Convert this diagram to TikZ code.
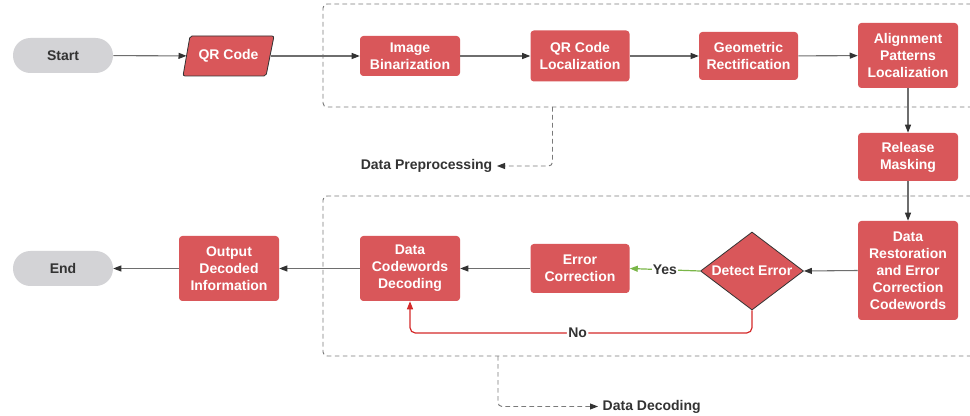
\documentclass[tikz,border=0pt]{standalone}
\usepackage{fontspec}
\setmainfont{Liberation Sans}
\usetikzlibrary{shapes.geometric,arrows.meta}
\definecolor{boxred}{HTML}{D9575A}
\definecolor{pill}{HTML}{D3D3D6}
\definecolor{ink}{HTML}{333333}
\definecolor{wire}{HTML}{6E6E6E}
\definecolor{yesgreen}{HTML}{7AB648}
\definecolor{nored}{HTML}{D42A2A}
\definecolor{frame}{HTML}{7A7A7A}
\begin{document}
\begin{tikzpicture}[x=0.75pt,y=-0.75pt,
  font=\fontsize{10.5}{12.75}\selectfont\bfseries,
  stepbox/.style={fill=boxred, text=white, rounded corners=2.5pt, align=center,
    inner sep=0pt, minimum width=75pt},
  terminal/.style={fill=pill, text=ink, rounded corners=13pt, minimum width=75pt,
    minimum height=26.25pt, inner sep=0pt},
  tip/.style={-{Triangle[length=6pt,width=4.5pt,color=ink]}},
  flow/.style={draw=wire, line width=0.8pt, tip},
  group/.style={draw=frame, dash pattern=on 3.5pt off 2.5pt, rounded corners=3pt,
    line width=0.7pt, inner sep=0pt},
  tagline/.style={draw=frame, dash pattern=on 3.5pt off 2.5pt, line width=0.7pt,
    rounded corners=3pt, tip},
  tag/.style={text=ink},
]
\clip (0,0) rectangle (970,416);
\fill[white] (0,0) rectangle (970,416);

% stage frames
\node[group, minimum width=489pt, minimum height=77.25pt] (prep) at (649,55.5) {};
\node[group, minimum width=489pt, minimum height=120pt] (deco) at (649,276) {};

% top row
\node[terminal] (start) at (63,55.5) {Start};
\draw[fill=boxred, draw=ink, line width=0.6pt, rounded corners=1.5pt]
  (183,76) -- (190,36) -- (274,36) -- (266,76) -- cycle;
\node[text=white, minimum width=62.6pt, minimum height=30pt, inner sep=0pt] (qr) at (228.5,56) {QR Code};
\node[stepbox, minimum height=30pt] (bin) at (410,56) {Image\\Binarization};
\node[stepbox, minimum width=74.25pt, minimum height=38.25pt] (loc) at (580,56) {QR Code\\Localization};
\node[stepbox, minimum width=74.25pt, minimum height=36pt] (geo) at (748.5,56) {Geometric\\Rectification};
\node[stepbox, minimum height=48.75pt] (align) at (908,55.5) {Alignment\\Patterns\\Localization};

% right column
\node[stepbox, minimum height=36pt] (mask) at (908,157) {Release\\Masking};
\node[stepbox, minimum height=74.25pt] (rest) at (908,270.5) {Data\\Restoration\\and Error\\Correction\\Codewords};

% bottom row
\node[diamond, draw=ink, fill=boxred, line width=0.6pt, minimum width=77.25pt,
  minimum height=58.5pt, inner sep=0pt] (det) at (752,271) {};
\node[text=white] (detlabel) at (det) {Detect Error};
\node[stepbox, minimum width=74.25pt, minimum height=36.75pt] (ecor) at (580,268.5) {Error\\Correction};
\node[stepbox, minimum height=48.75pt] (dcd) at (410,268.5) {Data\\Codewords\\Decoding};
\node[stepbox, minimum height=48.75pt] (out) at (229,268.5) {Output\\Decoded\\Information};
\node[terminal] (end) at (63,268.5) {End};

% main flow
\draw[flow] (start) -- (qr);
\draw[flow] (qr) -- (bin);
\draw[flow] (bin) -- (loc);
\draw[flow] (loc) -- (geo);
\draw[flow] (geo) -- (align);
\draw[flow] (align) -- (mask);
\draw[flow] (mask) -- (rest);
\draw[flow] (rest.west) -- (det.east);
\draw[draw=yesgreen, line width=0.9pt, -{Triangle[length=6pt,width=4.5pt,color=yesgreen]}]
  (det.west) -- node[fill=white, inner sep=1pt, text=ink] {Yes} (ecor.east);
\draw[flow] (ecor.west) -- (ecor.west -| dcd.east);
\coordinate (noturn) at (752,333);
\draw[draw=nored, line width=0.9pt, rounded corners=4pt,
  -{Triangle[length=6pt,width=4.5pt,color=nored]}]
  (det.south) -- (noturn) -| node[pos=0.255, fill=white, inner sep=1pt, text=ink] {No} (dcd.south);
\draw[flow] (dcd) -- (out);
\draw[flow] (out) -- (end);

% stage captions
\node[tag, anchor=east] (preplabel) at (497,166) {Data Preprocessing};
\coordinate (preptap) at (552.5,107);
\draw[tagline] (preptap) |- (preplabel.east);
\node[tag, anchor=west] (decolabel) at (598,406.5) {Data Decoding};
\coordinate (decotap) at (498,356);
\draw[tagline] (decotap) |- (decolabel.west);
\end{tikzpicture}
\end{document}
